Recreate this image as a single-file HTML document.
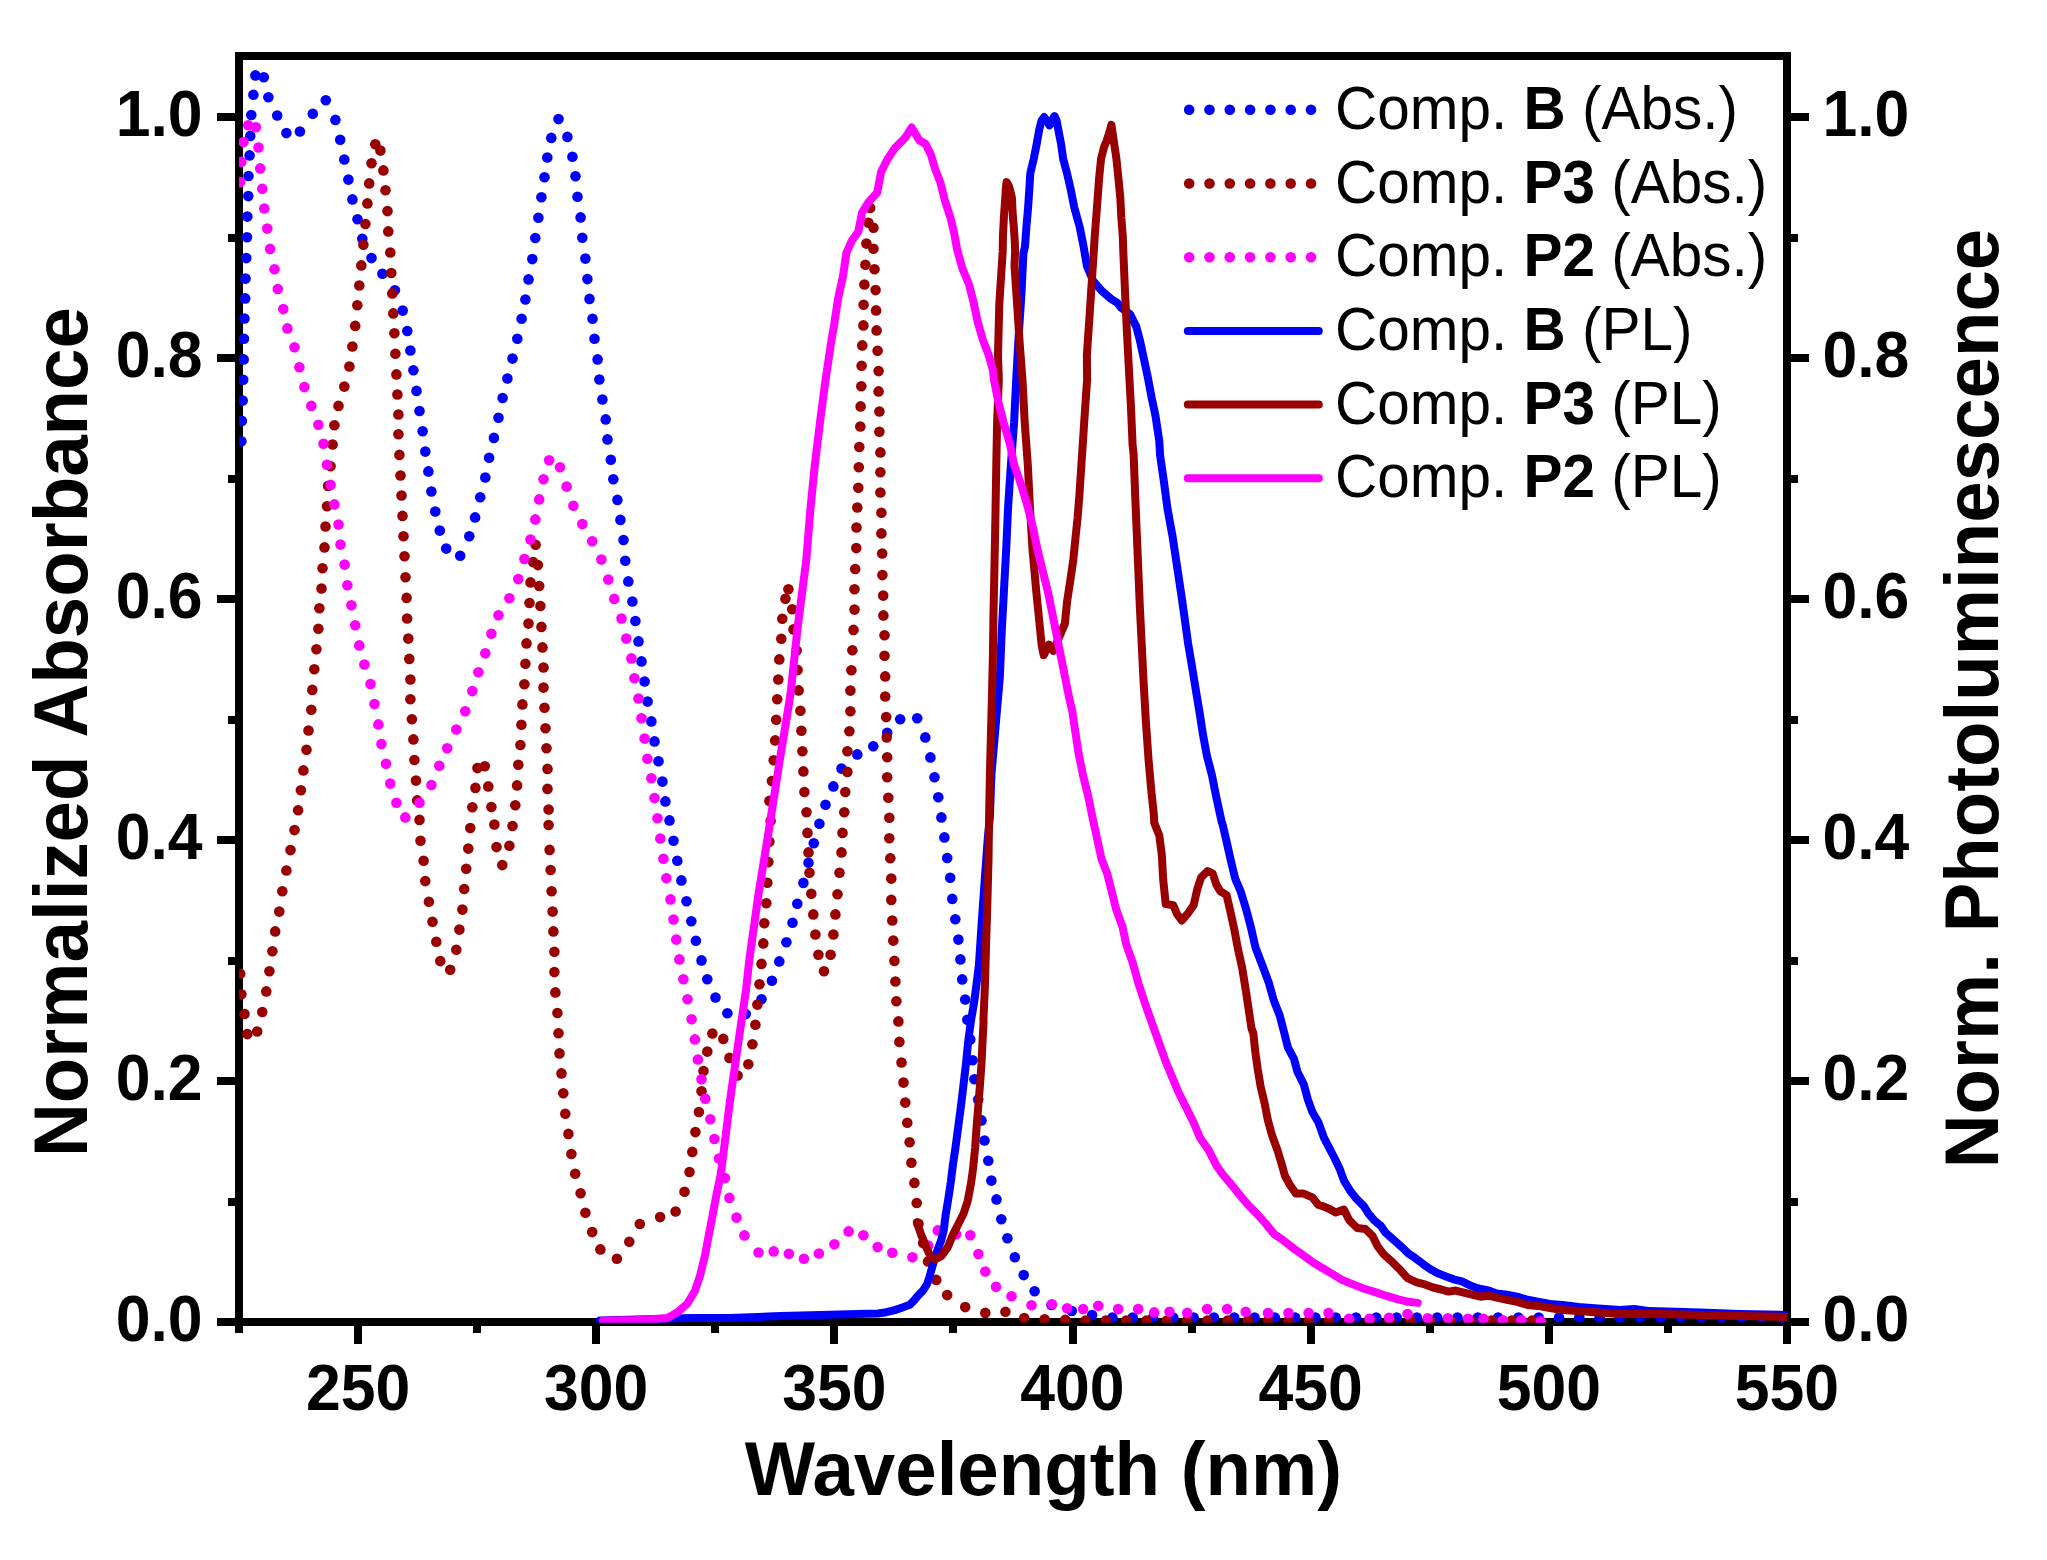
<!DOCTYPE html>
<html lang="en"><head><meta charset="utf-8"><title>Absorbance and Photoluminescence</title>
<style>html,body{margin:0;padding:0;background:#fff}body{width:2047px;height:1560px;overflow:hidden}</style></head>
<body>
<svg width="2047" height="1560" viewBox="0 0 2047 1560" style="display:block">
<rect width="2047" height="1560" fill="#fff"/>
<defs><clipPath id="c"><rect x="239" y="56" width="1548.5" height="1266.7"/></clipPath></defs>
<g stroke="#000" stroke-width="8" fill="none" stroke-linecap="butt" shape-rendering="crispEdges">
<rect x="239" y="56" width="1548" height="1266"/>
<path d="M239,1322.0h-22 M1787,1322.0h22 M239,1201.5h-11 M1787,1201.5h11 M239,1081.0h-22 M1787,1081.0h22 M239,960.5h-11 M1787,960.5h11 M239,840.0h-22 M1787,840.0h22 M239,719.5h-11 M1787,719.5h11 M239,599.0h-22 M1787,599.0h22 M239,478.5h-11 M1787,478.5h11 M239,358.0h-22 M1787,358.0h22 M239,237.5h-11 M1787,237.5h11 M239,117.0h-22 M1787,117.0h22 M239,1322v11 M358,1322v22 M477,1322v11 M596,1322v22 M715,1322v11 M834,1322v22 M953,1322v11 M1073,1322v22 M1192,1322v11 M1311,1322v22 M1430,1322v11 M1549,1322v22 M1668,1322v11 M1787,1322v22"/>
</g>
<g clip-path="url(#c)">
<g fill="#0000ff"><circle cx="241.4" cy="441.2" r="5.3"/><circle cx="241.9" cy="420.9" r="5.3"/><circle cx="242.7" cy="400.6" r="5.3"/><circle cx="243.2" cy="379.7" r="5.3"/><circle cx="243.7" cy="359.4" r="5.3"/><circle cx="244.0" cy="338.8" r="5.3"/><circle cx="244.5" cy="318.5" r="5.3"/><circle cx="245.2" cy="298.4" r="5.3"/><circle cx="245.5" cy="278.6" r="5.3"/><circle cx="246.3" cy="258.1" r="5.3"/><circle cx="247.0" cy="237.2" r="5.3"/><circle cx="247.3" cy="216.6" r="5.3"/><circle cx="248.3" cy="196.1" r="5.3"/><circle cx="248.5" cy="176.0" r="5.3"/><circle cx="249.6" cy="155.4" r="5.3"/><circle cx="250.3" cy="135.9" r="5.3"/><circle cx="251.3" cy="115.0" r="5.3"/><circle cx="253.4" cy="94.7" r="5.3"/><circle cx="255.4" cy="75.4" r="5.3"/><circle cx="263.8" cy="77.2" r="5.3"/><circle cx="268.4" cy="97.2" r="5.3"/><circle cx="277.2" cy="115.5" r="5.3"/><circle cx="286.4" cy="133.1" r="5.3"/><circle cx="299.9" cy="131.5" r="5.3"/><circle cx="312.8" cy="113.8" r="5.3"/><circle cx="325.8" cy="100.3" r="5.3"/><circle cx="335.4" cy="119.9" r="5.3"/><circle cx="340.2" cy="139.7" r="5.3"/><circle cx="344.3" cy="159.5" r="5.3"/><circle cx="348.4" cy="179.6" r="5.3"/><circle cx="352.4" cy="199.4" r="5.3"/><circle cx="357.5" cy="219.2" r="5.3"/><circle cx="362.3" cy="238.7" r="5.3"/><circle cx="371.5" cy="258.1" r="5.3"/><circle cx="382.4" cy="273.8" r="5.3"/><circle cx="394.9" cy="290.3" r="5.3"/><circle cx="402.7" cy="310.6" r="5.3"/><circle cx="407.3" cy="331.0" r="5.3"/><circle cx="410.4" cy="350.5" r="5.3"/><circle cx="413.4" cy="370.3" r="5.3"/><circle cx="416.5" cy="390.9" r="5.3"/><circle cx="419.5" cy="411.0" r="5.3"/><circle cx="422.6" cy="431.3" r="5.3"/><circle cx="425.3" cy="451.6" r="5.3"/><circle cx="428.4" cy="471.4" r="5.3"/><circle cx="431.4" cy="491.5" r="5.3"/><circle cx="435.3" cy="511.5" r="5.3"/><circle cx="439.8" cy="530.6" r="5.3"/><circle cx="446.2" cy="548.6" r="5.3"/><circle cx="460.2" cy="555.7" r="5.3"/><circle cx="469.3" cy="536.2" r="5.3"/><circle cx="475.1" cy="517.4" r="5.3"/><circle cx="480.2" cy="497.3" r="5.3"/><circle cx="485.3" cy="477.5" r="5.3"/><circle cx="489.1" cy="457.7" r="5.3"/><circle cx="493.9" cy="437.9" r="5.3"/><circle cx="498.5" cy="417.8" r="5.3"/><circle cx="502.6" cy="398.0" r="5.3"/><circle cx="507.4" cy="378.5" r="5.3"/><circle cx="512.5" cy="358.6" r="5.3"/><circle cx="517.3" cy="338.8" r="5.3"/><circle cx="521.6" cy="318.8" r="5.3"/><circle cx="525.4" cy="299.5" r="5.3"/><circle cx="528.5" cy="279.4" r="5.3"/><circle cx="532.3" cy="259.1" r="5.3"/><circle cx="535.3" cy="238.0" r="5.3"/><circle cx="538.4" cy="217.7" r="5.3"/><circle cx="541.4" cy="197.3" r="5.3"/><circle cx="544.5" cy="177.3" r="5.3"/><circle cx="547.3" cy="157.5" r="5.3"/><circle cx="551.3" cy="137.9" r="5.3"/><circle cx="558.5" cy="119.1" r="5.3"/><circle cx="567.4" cy="136.9" r="5.3"/><circle cx="572.4" cy="156.7" r="5.3"/><circle cx="575.5" cy="176.3" r="5.3"/><circle cx="577.5" cy="196.8" r="5.3"/><circle cx="580.6" cy="217.4" r="5.3"/><circle cx="582.3" cy="237.7" r="5.3"/><circle cx="585.4" cy="258.6" r="5.3"/><circle cx="587.4" cy="279.1" r="5.3"/><circle cx="589.5" cy="298.9" r="5.3"/><circle cx="592.5" cy="318.8" r="5.3"/><circle cx="594.5" cy="338.8" r="5.3"/><circle cx="597.6" cy="359.4" r="5.3"/><circle cx="599.4" cy="379.5" r="5.3"/><circle cx="602.4" cy="399.5" r="5.3"/><circle cx="605.7" cy="419.4" r="5.3"/><circle cx="607.5" cy="439.4" r="5.3"/><circle cx="610.8" cy="459.7" r="5.3"/><circle cx="613.3" cy="479.3" r="5.3"/><circle cx="617.4" cy="499.9" r="5.3"/><circle cx="620.4" cy="519.9" r="5.3"/><circle cx="623.5" cy="540.0" r="5.3"/><circle cx="625.3" cy="560.8" r="5.3"/><circle cx="628.3" cy="581.4" r="5.3"/><circle cx="632.4" cy="601.5" r="5.3"/><circle cx="635.4" cy="621.0" r="5.3"/><circle cx="638.5" cy="641.4" r="5.3"/><circle cx="641.5" cy="661.4" r="5.3"/><circle cx="644.6" cy="681.5" r="5.3"/><circle cx="647.6" cy="701.6" r="5.3"/><circle cx="651.4" cy="721.4" r="5.3"/><circle cx="654.5" cy="741.4" r="5.3"/><circle cx="658.5" cy="761.3" r="5.3"/><circle cx="662.4" cy="781.6" r="5.3"/><circle cx="665.4" cy="801.4" r="5.3"/><circle cx="669.5" cy="820.4" r="5.3"/><circle cx="673.5" cy="840.7" r="5.3"/><circle cx="677.3" cy="860.8" r="5.3"/><circle cx="681.4" cy="880.4" r="5.3"/><circle cx="686.5" cy="901.2" r="5.3"/><circle cx="691.3" cy="921.3" r="5.3"/><circle cx="695.9" cy="940.8" r="5.3"/><circle cx="701.5" cy="960.4" r="5.3"/><circle cx="707.3" cy="979.2" r="5.3"/><circle cx="715.5" cy="997.5" r="5.3"/><circle cx="727.4" cy="1013.2" r="5.3"/><circle cx="745.7" cy="1014.0" r="5.3"/><circle cx="761.5" cy="999.3" r="5.3"/><circle cx="771.9" cy="980.7" r="5.3"/><circle cx="779.3" cy="961.4" r="5.3"/><circle cx="786.4" cy="942.3" r="5.3"/><circle cx="792.5" cy="922.8" r="5.3"/><circle cx="797.3" cy="903.7" r="5.3"/><circle cx="803.4" cy="882.9" r="5.3"/><circle cx="808.5" cy="862.8" r="5.3"/><circle cx="813.8" cy="843.3" r="5.3"/><circle cx="819.4" cy="823.7" r="5.3"/><circle cx="825.5" cy="804.7" r="5.3"/><circle cx="833.4" cy="786.4" r="5.3"/><circle cx="841.5" cy="768.6" r="5.3"/><circle cx="857.3" cy="754.4" r="5.3"/><circle cx="873.3" cy="746.3" r="5.3"/><circle cx="887.2" cy="732.8" r="5.3"/><circle cx="900.2" cy="719.3" r="5.3"/><circle cx="917.2" cy="718.3" r="5.3"/><circle cx="925.3" cy="737.4" r="5.3"/><circle cx="930.4" cy="757.4" r="5.3"/><circle cx="934.5" cy="777.3" r="5.3"/><circle cx="938.3" cy="797.3" r="5.3"/><circle cx="941.4" cy="817.4" r="5.3"/><circle cx="944.4" cy="837.4" r="5.3"/><circle cx="947.2" cy="858.0" r="5.3"/><circle cx="950.2" cy="877.8" r="5.3"/><circle cx="952.3" cy="898.9" r="5.3"/><circle cx="955.3" cy="919.2" r="5.3"/><circle cx="958.4" cy="939.6" r="5.3"/><circle cx="960.4" cy="959.4" r="5.3"/><circle cx="962.2" cy="979.4" r="5.3"/><circle cx="965.2" cy="999.5" r="5.3"/><circle cx="967.3" cy="1019.8" r="5.3"/><circle cx="970.3" cy="1039.4" r="5.3"/><circle cx="972.6" cy="1060.2" r="5.3"/><circle cx="974.4" cy="1079.3" r="5.3"/><circle cx="978.2" cy="1099.6" r="5.3"/><circle cx="981.5" cy="1120.4" r="5.3"/><circle cx="984.5" cy="1140.5" r="5.3"/><circle cx="988.3" cy="1160.8" r="5.3"/><circle cx="991.4" cy="1180.6" r="5.3"/><circle cx="996.5" cy="1199.4" r="5.3"/><circle cx="1001.3" cy="1219.2" r="5.3"/><circle cx="1007.4" cy="1238.2" r="5.3"/><circle cx="1014.8" cy="1257.3" r="5.3"/><circle cx="1023.7" cy="1275.1" r="5.3"/><circle cx="1034.6" cy="1291.3" r="5.3"/><circle cx="1051.5" cy="1305.0" r="5.3"/><circle cx="1071.8" cy="1311.0" r="5.3"/><circle cx="1092.1" cy="1315.0" r="5.3"/><circle cx="1112.4" cy="1317.5" r="5.3"/><circle cx="1132.7" cy="1317.5" r="5.3"/><circle cx="1153.0" cy="1317.5" r="5.3"/><circle cx="1173.3" cy="1317.5" r="5.3"/><circle cx="1193.6" cy="1317.5" r="5.3"/><circle cx="1213.9" cy="1317.5" r="5.3"/><circle cx="1234.2" cy="1317.5" r="5.3"/><circle cx="1254.5" cy="1317.5" r="5.3"/><circle cx="1274.8" cy="1317.5" r="5.3"/><circle cx="1295.1" cy="1317.5" r="5.3"/><circle cx="1315.4" cy="1317.5" r="5.3"/><circle cx="1335.7" cy="1317.5" r="5.3"/><circle cx="1356.0" cy="1317.5" r="5.3"/><circle cx="1376.3" cy="1317.5" r="5.3"/><circle cx="1396.6" cy="1317.5" r="5.3"/><circle cx="1416.9" cy="1317.5" r="5.3"/><circle cx="1437.2" cy="1317.5" r="5.3"/><circle cx="1457.5" cy="1317.5" r="5.3"/><circle cx="1477.8" cy="1317.5" r="5.3"/><circle cx="1498.1" cy="1317.5" r="5.3"/><circle cx="1518.4" cy="1317.5" r="5.3"/><circle cx="1538.7" cy="1317.5" r="5.3"/><circle cx="1559.0" cy="1317.5" r="5.3"/><circle cx="1579.3" cy="1317.5" r="5.3"/><circle cx="1599.6" cy="1317.5" r="5.3"/><circle cx="1619.9" cy="1317.5" r="5.3"/><circle cx="1640.2" cy="1317.5" r="5.3"/><circle cx="1660.5" cy="1317.5" r="5.3"/><circle cx="1680.8" cy="1317.5" r="5.3"/><circle cx="1701.1" cy="1317.5" r="5.3"/><circle cx="1721.4" cy="1317.5" r="5.3"/><circle cx="1741.7" cy="1317.5" r="5.3"/><circle cx="1762.0" cy="1317.5" r="5.3"/><circle cx="1782.3" cy="1317.5" r="5.3"/></g>
<g fill="#990000"><circle cx="240.2" cy="973.8" r="5.3"/><circle cx="241.4" cy="994.2" r="5.3"/><circle cx="244.5" cy="1014.0" r="5.3"/><circle cx="247.3" cy="1034.1" r="5.3"/><circle cx="257.2" cy="1031.5" r="5.3"/><circle cx="262.3" cy="1012.0" r="5.3"/><circle cx="266.3" cy="991.4" r="5.3"/><circle cx="269.4" cy="971.3" r="5.3"/><circle cx="272.4" cy="951.2" r="5.3"/><circle cx="275.2" cy="931.4" r="5.3"/><circle cx="279.3" cy="911.6" r="5.3"/><circle cx="282.3" cy="891.3" r="5.3"/><circle cx="286.4" cy="870.5" r="5.3"/><circle cx="290.5" cy="850.1" r="5.3"/><circle cx="294.5" cy="830.1" r="5.3"/><circle cx="298.1" cy="810.3" r="5.3"/><circle cx="300.9" cy="790.2" r="5.3"/><circle cx="303.4" cy="770.4" r="5.3"/><circle cx="306.5" cy="749.8" r="5.3"/><circle cx="308.5" cy="730.5" r="5.3"/><circle cx="311.3" cy="709.7" r="5.3"/><circle cx="312.3" cy="689.9" r="5.3"/><circle cx="314.3" cy="669.3" r="5.3"/><circle cx="316.4" cy="649.2" r="5.3"/><circle cx="318.4" cy="628.7" r="5.3"/><circle cx="319.4" cy="608.3" r="5.3"/><circle cx="321.5" cy="588.5" r="5.3"/><circle cx="322.5" cy="568.2" r="5.3"/><circle cx="324.5" cy="547.4" r="5.3"/><circle cx="325.5" cy="526.5" r="5.3"/><circle cx="327.0" cy="506.2" r="5.3"/><circle cx="328.1" cy="485.9" r="5.3"/><circle cx="330.6" cy="466.3" r="5.3"/><circle cx="332.6" cy="444.5" r="5.3"/><circle cx="334.4" cy="425.2" r="5.3"/><circle cx="338.5" cy="405.9" r="5.3"/><circle cx="344.3" cy="386.6" r="5.3"/><circle cx="349.4" cy="366.5" r="5.3"/><circle cx="352.4" cy="346.5" r="5.3"/><circle cx="355.2" cy="325.9" r="5.3"/><circle cx="357.3" cy="305.3" r="5.3"/><circle cx="359.3" cy="285.5" r="5.3"/><circle cx="361.3" cy="265.4" r="5.3"/><circle cx="363.4" cy="244.8" r="5.3"/><circle cx="365.4" cy="224.0" r="5.3"/><circle cx="367.4" cy="203.4" r="5.3"/><circle cx="369.2" cy="183.4" r="5.3"/><circle cx="371.5" cy="163.3" r="5.3"/><circle cx="375.3" cy="144.2" r="5.3"/><circle cx="380.4" cy="150.6" r="5.3"/><circle cx="383.4" cy="170.4" r="5.3"/><circle cx="385.5" cy="190.2" r="5.3"/><circle cx="387.5" cy="211.1" r="5.3"/><circle cx="388.3" cy="231.4" r="5.3"/><circle cx="390.3" cy="252.5" r="5.3"/><circle cx="391.3" cy="273.0" r="5.3"/><circle cx="392.3" cy="293.4" r="5.3"/><circle cx="393.3" cy="313.4" r="5.3"/><circle cx="394.4" cy="333.2" r="5.3"/><circle cx="395.4" cy="353.8" r="5.3"/><circle cx="396.4" cy="374.4" r="5.3"/><circle cx="397.4" cy="394.5" r="5.3"/><circle cx="398.4" cy="414.5" r="5.3"/><circle cx="398.4" cy="434.3" r="5.3"/><circle cx="399.4" cy="454.9" r="5.3"/><circle cx="400.5" cy="475.5" r="5.3"/><circle cx="401.5" cy="495.5" r="5.3"/><circle cx="402.5" cy="515.9" r="5.3"/><circle cx="403.5" cy="536.2" r="5.3"/><circle cx="404.5" cy="556.3" r="5.3"/><circle cx="405.5" cy="577.3" r="5.3"/><circle cx="406.6" cy="597.9" r="5.3"/><circle cx="407.1" cy="618.5" r="5.3"/><circle cx="408.3" cy="638.6" r="5.3"/><circle cx="409.3" cy="658.9" r="5.3"/><circle cx="410.4" cy="679.5" r="5.3"/><circle cx="410.4" cy="699.3" r="5.3"/><circle cx="411.9" cy="719.3" r="5.3"/><circle cx="413.4" cy="739.4" r="5.3"/><circle cx="414.4" cy="760.0" r="5.3"/><circle cx="416.0" cy="780.6" r="5.3"/><circle cx="417.2" cy="800.4" r="5.3"/><circle cx="419.5" cy="819.9" r="5.3"/><circle cx="420.5" cy="840.7" r="5.3"/><circle cx="423.6" cy="860.8" r="5.3"/><circle cx="425.3" cy="881.1" r="5.3"/><circle cx="428.9" cy="901.7" r="5.3"/><circle cx="432.5" cy="921.8" r="5.3"/><circle cx="436.3" cy="941.8" r="5.3"/><circle cx="440.3" cy="961.1" r="5.3"/><circle cx="450.2" cy="969.8" r="5.3"/><circle cx="456.3" cy="949.7" r="5.3"/><circle cx="459.4" cy="929.6" r="5.3"/><circle cx="462.4" cy="909.6" r="5.3"/><circle cx="464.2" cy="889.0" r="5.3"/><circle cx="466.2" cy="868.7" r="5.3"/><circle cx="468.3" cy="848.6" r="5.3"/><circle cx="470.3" cy="828.0" r="5.3"/><circle cx="472.3" cy="807.2" r="5.3"/><circle cx="475.4" cy="787.9" r="5.3"/><circle cx="477.4" cy="768.1" r="5.3"/><circle cx="484.8" cy="766.3" r="5.3"/><circle cx="488.3" cy="786.4" r="5.3"/><circle cx="491.4" cy="807.0" r="5.3"/><circle cx="494.4" cy="824.5" r="5.3"/><circle cx="496.5" cy="847.1" r="5.3"/><circle cx="502.3" cy="865.1" r="5.3"/><circle cx="509.4" cy="845.8" r="5.3"/><circle cx="512.5" cy="826.0" r="5.3"/><circle cx="515.3" cy="805.2" r="5.3"/><circle cx="517.1" cy="785.4" r="5.3"/><circle cx="518.3" cy="764.8" r="5.3"/><circle cx="520.4" cy="745.0" r="5.3"/><circle cx="521.4" cy="724.7" r="5.3"/><circle cx="522.4" cy="704.4" r="5.3"/><circle cx="524.4" cy="684.3" r="5.3"/><circle cx="525.4" cy="663.7" r="5.3"/><circle cx="526.5" cy="643.4" r="5.3"/><circle cx="528.5" cy="623.6" r="5.3"/><circle cx="529.5" cy="603.0" r="5.3"/><circle cx="530.5" cy="582.4" r="5.3"/><circle cx="533.1" cy="562.1" r="5.3"/><circle cx="535.6" cy="544.8" r="5.3"/><circle cx="537.9" cy="565.1" r="5.3"/><circle cx="539.2" cy="586.0" r="5.3"/><circle cx="540.4" cy="606.0" r="5.3"/><circle cx="541.4" cy="626.9" r="5.3"/><circle cx="542.5" cy="647.4" r="5.3"/><circle cx="543.5" cy="667.5" r="5.3"/><circle cx="543.5" cy="687.6" r="5.3"/><circle cx="544.5" cy="707.7" r="5.3"/><circle cx="545.5" cy="728.2" r="5.3"/><circle cx="546.5" cy="748.3" r="5.3"/><circle cx="547.5" cy="768.9" r="5.3"/><circle cx="547.5" cy="788.9" r="5.3"/><circle cx="548.6" cy="809.5" r="5.3"/><circle cx="548.6" cy="825.0" r="5.3"/><circle cx="549.6" cy="849.9" r="5.3"/><circle cx="550.6" cy="870.0" r="5.3"/><circle cx="551.6" cy="891.3" r="5.3"/><circle cx="552.6" cy="911.6" r="5.3"/><circle cx="553.4" cy="931.4" r="5.3"/><circle cx="554.4" cy="951.7" r="5.3"/><circle cx="554.4" cy="972.1" r="5.3"/><circle cx="555.4" cy="992.4" r="5.3"/><circle cx="557.4" cy="1013.0" r="5.3"/><circle cx="558.5" cy="1033.3" r="5.3"/><circle cx="559.5" cy="1053.4" r="5.3"/><circle cx="561.5" cy="1073.4" r="5.3"/><circle cx="563.3" cy="1093.2" r="5.3"/><circle cx="565.3" cy="1113.8" r="5.3"/><circle cx="568.4" cy="1133.9" r="5.3"/><circle cx="571.4" cy="1154.0" r="5.3"/><circle cx="575.2" cy="1173.8" r="5.3"/><circle cx="580.6" cy="1193.3" r="5.3"/><circle cx="585.4" cy="1212.8" r="5.3"/><circle cx="592.2" cy="1232.1" r="5.3"/><circle cx="600.4" cy="1249.4" r="5.3"/><circle cx="616.9" cy="1258.8" r="5.3"/><circle cx="629.3" cy="1241.7" r="5.3"/><circle cx="639.8" cy="1224.0" r="5.3"/><circle cx="660.1" cy="1217.1" r="5.3"/><circle cx="675.6" cy="1211.5" r="5.3"/><circle cx="684.5" cy="1191.8" r="5.3"/><circle cx="689.5" cy="1172.0" r="5.3"/><circle cx="692.3" cy="1151.9" r="5.3"/><circle cx="695.4" cy="1132.1" r="5.3"/><circle cx="698.9" cy="1112.0" r="5.3"/><circle cx="701.5" cy="1091.2" r="5.3"/><circle cx="703.5" cy="1071.1" r="5.3"/><circle cx="707.3" cy="1051.6" r="5.3"/><circle cx="712.4" cy="1033.5" r="5.3"/><circle cx="723.3" cy="1038.9" r="5.3"/><circle cx="729.4" cy="1057.9" r="5.3"/><circle cx="737.6" cy="1075.5" r="5.3"/><circle cx="748.3" cy="1064.3" r="5.3"/><circle cx="752.4" cy="1044.2" r="5.3"/><circle cx="755.4" cy="1024.7" r="5.3"/><circle cx="757.4" cy="1004.6" r="5.3"/><circle cx="759.5" cy="984.3" r="5.3"/><circle cx="761.5" cy="963.9" r="5.3"/><circle cx="763.3" cy="943.4" r="5.3"/><circle cx="764.3" cy="923.3" r="5.3"/><circle cx="766.3" cy="903.2" r="5.3"/><circle cx="767.3" cy="882.7" r="5.3"/><circle cx="768.4" cy="862.1" r="5.3"/><circle cx="769.4" cy="841.8" r="5.3"/><circle cx="770.6" cy="820.9" r="5.3"/><circle cx="769.4" cy="800.9" r="5.3"/><circle cx="771.9" cy="781.1" r="5.3"/><circle cx="773.7" cy="760.2" r="5.3"/><circle cx="775.2" cy="740.4" r="5.3"/><circle cx="776.2" cy="719.8" r="5.3"/><circle cx="777.2" cy="699.3" r="5.3"/><circle cx="778.3" cy="679.5" r="5.3"/><circle cx="779.3" cy="659.4" r="5.3"/><circle cx="781.3" cy="638.8" r="5.3"/><circle cx="782.3" cy="618.7" r="5.3"/><circle cx="785.4" cy="598.7" r="5.3"/><circle cx="788.4" cy="589.3" r="5.3"/><circle cx="792.2" cy="609.3" r="5.3"/><circle cx="793.5" cy="629.4" r="5.3"/><circle cx="796.6" cy="650.5" r="5.3"/><circle cx="797.6" cy="670.1" r="5.3"/><circle cx="798.6" cy="690.4" r="5.3"/><circle cx="800.4" cy="710.7" r="5.3"/><circle cx="801.4" cy="730.8" r="5.3"/><circle cx="802.4" cy="751.3" r="5.3"/><circle cx="803.4" cy="771.4" r="5.3"/><circle cx="804.4" cy="792.0" r="5.3"/><circle cx="806.5" cy="812.3" r="5.3"/><circle cx="807.5" cy="832.9" r="5.3"/><circle cx="808.5" cy="852.4" r="5.3"/><circle cx="809.5" cy="872.7" r="5.3"/><circle cx="811.3" cy="893.8" r="5.3"/><circle cx="813.3" cy="914.4" r="5.3"/><circle cx="815.4" cy="934.5" r="5.3"/><circle cx="818.4" cy="954.8" r="5.3"/><circle cx="824.0" cy="971.3" r="5.3"/><circle cx="830.6" cy="954.8" r="5.3"/><circle cx="833.4" cy="934.5" r="5.3"/><circle cx="835.4" cy="914.4" r="5.3"/><circle cx="837.5" cy="894.3" r="5.3"/><circle cx="839.5" cy="872.7" r="5.3"/><circle cx="841.5" cy="852.4" r="5.3"/><circle cx="842.5" cy="832.9" r="5.3"/><circle cx="844.3" cy="812.3" r="5.3"/><circle cx="845.3" cy="792.0" r="5.3"/><circle cx="847.4" cy="771.9" r="5.3"/><circle cx="847.4" cy="751.3" r="5.3"/><circle cx="849.4" cy="731.3" r="5.3"/><circle cx="850.4" cy="711.2" r="5.3"/><circle cx="850.4" cy="690.6" r="5.3"/><circle cx="851.4" cy="670.3" r="5.3"/><circle cx="852.4" cy="650.2" r="5.3"/><circle cx="853.5" cy="629.9" r="5.3"/><circle cx="854.5" cy="609.6" r="5.3"/><circle cx="854.5" cy="589.3" r="5.3"/><circle cx="855.2" cy="569.0" r="5.3"/><circle cx="856.3" cy="548.1" r="5.3"/><circle cx="856.5" cy="527.5" r="5.3"/><circle cx="857.3" cy="507.5" r="5.3"/><circle cx="858.3" cy="487.7" r="5.3"/><circle cx="858.8" cy="467.3" r="5.3"/><circle cx="859.3" cy="447.0" r="5.3"/><circle cx="860.3" cy="426.5" r="5.3"/><circle cx="860.6" cy="406.4" r="5.3"/><circle cx="861.3" cy="386.3" r="5.3"/><circle cx="861.6" cy="365.8" r="5.3"/><circle cx="862.3" cy="345.4" r="5.3"/><circle cx="863.4" cy="325.4" r="5.3"/><circle cx="863.6" cy="304.8" r="5.3"/><circle cx="864.4" cy="284.5" r="5.3"/><circle cx="865.4" cy="264.7" r="5.3"/><circle cx="866.4" cy="243.6" r="5.3"/><circle cx="868.4" cy="222.7" r="5.3"/><circle cx="870.2" cy="208.0" r="5.3"/><circle cx="873.5" cy="227.8" r="5.3"/><circle cx="873.5" cy="248.7" r="5.3"/><circle cx="874.5" cy="269.2" r="5.3"/><circle cx="875.6" cy="290.1" r="5.3"/><circle cx="876.1" cy="310.4" r="5.3"/><circle cx="876.6" cy="330.4" r="5.3"/><circle cx="877.6" cy="350.8" r="5.3"/><circle cx="878.6" cy="371.1" r="5.3"/><circle cx="878.6" cy="391.4" r="5.3"/><circle cx="879.4" cy="411.5" r="5.3"/><circle cx="879.4" cy="431.8" r="5.3"/><circle cx="880.4" cy="452.4" r="5.3"/><circle cx="880.4" cy="472.2" r="5.3"/><circle cx="880.4" cy="492.5" r="5.3"/><circle cx="881.4" cy="512.8" r="5.3"/><circle cx="881.4" cy="533.4" r="5.3"/><circle cx="882.2" cy="553.5" r="5.3"/><circle cx="882.4" cy="575.1" r="5.3"/><circle cx="883.2" cy="595.6" r="5.3"/><circle cx="883.4" cy="615.4" r="5.3"/><circle cx="884.5" cy="635.3" r="5.3"/><circle cx="884.5" cy="655.8" r="5.3"/><circle cx="885.2" cy="676.4" r="5.3"/><circle cx="885.2" cy="696.5" r="5.3"/><circle cx="886.2" cy="717.1" r="5.3"/><circle cx="886.7" cy="737.4" r="5.3"/><circle cx="887.2" cy="757.2" r="5.3"/><circle cx="887.2" cy="777.3" r="5.3"/><circle cx="888.3" cy="797.8" r="5.3"/><circle cx="889.3" cy="817.7" r="5.3"/><circle cx="889.3" cy="838.2" r="5.3"/><circle cx="890.3" cy="858.3" r="5.3"/><circle cx="891.3" cy="878.6" r="5.3"/><circle cx="891.3" cy="899.9" r="5.3"/><circle cx="892.3" cy="920.5" r="5.3"/><circle cx="893.3" cy="940.6" r="5.3"/><circle cx="894.4" cy="960.9" r="5.3"/><circle cx="895.4" cy="981.5" r="5.3"/><circle cx="896.4" cy="1001.3" r="5.3"/><circle cx="898.4" cy="1021.4" r="5.3"/><circle cx="899.4" cy="1041.9" r="5.3"/><circle cx="901.5" cy="1062.5" r="5.3"/><circle cx="903.5" cy="1082.6" r="5.3"/><circle cx="905.3" cy="1102.6" r="5.3"/><circle cx="907.3" cy="1122.7" r="5.3"/><circle cx="909.6" cy="1142.3" r="5.3"/><circle cx="911.4" cy="1162.8" r="5.3"/><circle cx="914.4" cy="1182.9" r="5.3"/><circle cx="916.7" cy="1203.0" r="5.3"/><circle cx="918.5" cy="1223.8" r="5.3"/><circle cx="923.1" cy="1243.1" r="5.3"/><circle cx="928.1" cy="1261.4" r="5.3"/><circle cx="936.3" cy="1279.9" r="5.3"/><circle cx="947.2" cy="1295.1" r="5.3"/><circle cx="965.2" cy="1307.1" r="5.3"/><circle cx="985.3" cy="1312.9" r="5.3"/><circle cx="1005.4" cy="1311.7" r="5.3"/><circle cx="1024.2" cy="1318.0" r="5.3"/><circle cx="1044.5" cy="1319.3" r="5.3"/><circle cx="1065.3" cy="1319.8" r="5.3"/><circle cx="1085.6" cy="1320.5" r="5.3"/><circle cx="1105.9" cy="1320.5" r="5.3"/><circle cx="1126.2" cy="1320.5" r="5.3"/><circle cx="1146.5" cy="1320.5" r="5.3"/><circle cx="1166.8" cy="1320.5" r="5.3"/><circle cx="1187.1" cy="1320.5" r="5.3"/><circle cx="1207.4" cy="1320.5" r="5.3"/><circle cx="1227.7" cy="1320.5" r="5.3"/><circle cx="1248.0" cy="1320.5" r="5.3"/><circle cx="1268.3" cy="1320.5" r="5.3"/><circle cx="1288.6" cy="1320.5" r="5.3"/><circle cx="1308.9" cy="1320.5" r="5.3"/><circle cx="1329.2" cy="1320.5" r="5.3"/><circle cx="1349.5" cy="1320.5" r="5.3"/><circle cx="1369.8" cy="1320.5" r="5.3"/><circle cx="1390.1" cy="1320.5" r="5.3"/><circle cx="1410.4" cy="1320.5" r="5.3"/><circle cx="1430.7" cy="1320.5" r="5.3"/><circle cx="1451.0" cy="1320.5" r="5.3"/><circle cx="1471.3" cy="1320.5" r="5.3"/><circle cx="1491.6" cy="1320.5" r="5.3"/><circle cx="1511.9" cy="1320.5" r="5.3"/><circle cx="1532.2" cy="1320.5" r="5.3"/></g>
<g fill="#ff00ff"><circle cx="240.2" cy="182.1" r="5.3"/><circle cx="241.4" cy="161.8" r="5.3"/><circle cx="243.5" cy="142.0" r="5.3"/><circle cx="248.3" cy="125.2" r="5.3"/><circle cx="255.9" cy="127.2" r="5.3"/><circle cx="258.5" cy="147.5" r="5.3"/><circle cx="260.2" cy="168.4" r="5.3"/><circle cx="262.3" cy="188.7" r="5.3"/><circle cx="264.3" cy="208.5" r="5.3"/><circle cx="267.3" cy="228.6" r="5.3"/><circle cx="270.1" cy="248.9" r="5.3"/><circle cx="274.5" cy="269.2" r="5.3"/><circle cx="277.8" cy="289.0" r="5.3"/><circle cx="283.3" cy="309.1" r="5.3"/><circle cx="287.4" cy="328.4" r="5.3"/><circle cx="294.5" cy="347.2" r="5.3"/><circle cx="299.4" cy="367.3" r="5.3"/><circle cx="304.4" cy="387.1" r="5.3"/><circle cx="311.3" cy="405.9" r="5.3"/><circle cx="318.4" cy="424.7" r="5.3"/><circle cx="323.5" cy="443.7" r="5.3"/><circle cx="327.0" cy="464.8" r="5.3"/><circle cx="330.6" cy="484.9" r="5.3"/><circle cx="334.4" cy="504.4" r="5.3"/><circle cx="338.5" cy="524.5" r="5.3"/><circle cx="340.5" cy="544.6" r="5.3"/><circle cx="344.6" cy="564.6" r="5.3"/><circle cx="347.4" cy="585.2" r="5.3"/><circle cx="351.4" cy="605.3" r="5.3"/><circle cx="355.2" cy="625.3" r="5.3"/><circle cx="359.3" cy="645.4" r="5.3"/><circle cx="364.4" cy="664.5" r="5.3"/><circle cx="370.5" cy="684.0" r="5.3"/><circle cx="374.5" cy="704.1" r="5.3"/><circle cx="378.4" cy="724.4" r="5.3"/><circle cx="381.4" cy="744.0" r="5.3"/><circle cx="386.0" cy="763.8" r="5.3"/><circle cx="390.3" cy="783.6" r="5.3"/><circle cx="396.4" cy="802.7" r="5.3"/><circle cx="405.3" cy="817.4" r="5.3"/><circle cx="419.5" cy="802.7" r="5.3"/><circle cx="431.4" cy="785.1" r="5.3"/><circle cx="439.3" cy="765.8" r="5.3"/><circle cx="447.2" cy="748.3" r="5.3"/><circle cx="456.3" cy="729.5" r="5.3"/><circle cx="465.2" cy="711.2" r="5.3"/><circle cx="472.3" cy="691.1" r="5.3"/><circle cx="478.4" cy="672.3" r="5.3"/><circle cx="485.3" cy="653.3" r="5.3"/><circle cx="491.4" cy="633.7" r="5.3"/><circle cx="498.5" cy="615.2" r="5.3"/><circle cx="509.4" cy="598.2" r="5.3"/><circle cx="518.3" cy="579.1" r="5.3"/><circle cx="524.4" cy="559.0" r="5.3"/><circle cx="530.5" cy="539.5" r="5.3"/><circle cx="535.3" cy="519.4" r="5.3"/><circle cx="539.2" cy="499.4" r="5.3"/><circle cx="543.5" cy="479.3" r="5.3"/><circle cx="549.1" cy="460.2" r="5.3"/><circle cx="560.0" cy="467.3" r="5.3"/><circle cx="566.6" cy="486.6" r="5.3"/><circle cx="573.4" cy="505.7" r="5.3"/><circle cx="582.3" cy="524.0" r="5.3"/><circle cx="592.2" cy="541.3" r="5.3"/><circle cx="601.4" cy="559.6" r="5.3"/><circle cx="608.3" cy="579.6" r="5.3"/><circle cx="614.3" cy="598.9" r="5.3"/><circle cx="621.5" cy="618.5" r="5.3"/><circle cx="626.3" cy="638.6" r="5.3"/><circle cx="631.4" cy="658.4" r="5.3"/><circle cx="634.4" cy="678.2" r="5.3"/><circle cx="638.5" cy="698.5" r="5.3"/><circle cx="641.5" cy="718.3" r="5.3"/><circle cx="644.6" cy="738.6" r="5.3"/><circle cx="647.4" cy="758.7" r="5.3"/><circle cx="651.4" cy="778.3" r="5.3"/><circle cx="654.5" cy="798.1" r="5.3"/><circle cx="657.5" cy="818.2" r="5.3"/><circle cx="660.3" cy="838.5" r="5.3"/><circle cx="663.4" cy="858.8" r="5.3"/><circle cx="666.4" cy="878.3" r="5.3"/><circle cx="670.5" cy="899.4" r="5.3"/><circle cx="673.5" cy="919.5" r="5.3"/><circle cx="676.3" cy="939.6" r="5.3"/><circle cx="679.4" cy="959.4" r="5.3"/><circle cx="683.4" cy="979.2" r="5.3"/><circle cx="687.5" cy="999.3" r="5.3"/><circle cx="691.6" cy="1019.3" r="5.3"/><circle cx="694.9" cy="1039.4" r="5.3"/><circle cx="697.9" cy="1059.5" r="5.3"/><circle cx="701.5" cy="1079.3" r="5.3"/><circle cx="705.3" cy="1098.8" r="5.3"/><circle cx="710.4" cy="1119.2" r="5.3"/><circle cx="714.4" cy="1139.0" r="5.3"/><circle cx="719.0" cy="1158.5" r="5.3"/><circle cx="724.9" cy="1178.1" r="5.3"/><circle cx="729.4" cy="1197.9" r="5.3"/><circle cx="736.5" cy="1217.6" r="5.3"/><circle cx="744.4" cy="1235.4" r="5.3"/><circle cx="758.5" cy="1252.5" r="5.3"/><circle cx="773.7" cy="1251.4" r="5.3"/><circle cx="788.9" cy="1253.7" r="5.3"/><circle cx="803.9" cy="1258.8" r="5.3"/><circle cx="818.9" cy="1253.5" r="5.3"/><circle cx="834.4" cy="1244.3" r="5.3"/><circle cx="848.6" cy="1231.4" r="5.3"/><circle cx="863.4" cy="1235.2" r="5.3"/><circle cx="877.6" cy="1247.1" r="5.3"/><circle cx="892.3" cy="1252.7" r="5.3"/><circle cx="912.4" cy="1257.3" r="5.3"/><circle cx="928.1" cy="1245.6" r="5.3"/><circle cx="937.8" cy="1230.4" r="5.3"/><circle cx="956.1" cy="1234.2" r="5.3"/><circle cx="970.3" cy="1235.2" r="5.3"/><circle cx="978.4" cy="1254.0" r="5.3"/><circle cx="985.3" cy="1271.5" r="5.3"/><circle cx="996.0" cy="1286.8" r="5.3"/><circle cx="1011.5" cy="1296.2" r="5.3"/><circle cx="1031.5" cy="1305.3" r="5.3"/><circle cx="1051.9" cy="1304.3" r="5.3"/><circle cx="1067.1" cy="1308.3" r="5.3"/><circle cx="1083.1" cy="1309.1" r="5.3"/><circle cx="1098.3" cy="1305.8" r="5.3"/><circle cx="1118.2" cy="1309.1" r="5.3"/><circle cx="1138.2" cy="1309.1" r="5.3"/><circle cx="1154.2" cy="1312.4" r="5.3"/><circle cx="1169.5" cy="1311.7" r="5.3"/><circle cx="1187.3" cy="1312.9" r="5.3"/><circle cx="1207.1" cy="1309.1" r="5.3"/><circle cx="1227.1" cy="1309.1" r="5.3"/><circle cx="1245.7" cy="1311.7" r="5.3"/><circle cx="1268.0" cy="1313.1" r="5.3"/><circle cx="1288.5" cy="1313.1" r="5.3"/><circle cx="1308.6" cy="1313.1" r="5.3"/><circle cx="1328.5" cy="1313.1" r="5.3"/><circle cx="1349.0" cy="1318.7" r="5.3"/><circle cx="1369.5" cy="1318.7" r="5.3"/><circle cx="1389.0" cy="1317.8" r="5.3"/><circle cx="1407.5" cy="1314.1" r="5.3"/><circle cx="1427.6" cy="1318.2" r="5.3"/><circle cx="1447.9" cy="1318.2" r="5.3"/><circle cx="1468.0" cy="1318.7" r="5.3"/><circle cx="1483.4" cy="1318.7" r="5.3"/><circle cx="1502.9" cy="1320.3" r="5.3"/><circle cx="1521.4" cy="1320.3" r="5.3"/><circle cx="1540.8" cy="1321.3" r="5.3"/></g>
<path d="M600.0,1320.5 L692.0,1318.0 L730.0,1318.0 L780.8,1316.0 L820.0,1314.9 L857.4,1314.1 L878.1,1313.5 L886.4,1312.2 L894.8,1310.1 L903.1,1307.2 L909.7,1304.8 L913.9,1300.6 L918.0,1295.6 L923.0,1290.6 L927.1,1284.0 L929.6,1276.5 L932.1,1267.4 L934.6,1259.1 L937.9,1249.1 L941.3,1240.0 L943.8,1230.0 L945.5,1215.9 L948.3,1198.9 L950.8,1182.0 L952.9,1165.1 L955.4,1148.1 L958.2,1127.0 L961.0,1105.8 L963.5,1084.7 L966.0,1063.5 L968.1,1042.3 L970.9,1021.2 L974.5,1000.0 L978.9,965.1 L981.7,922.8 L984.7,880.5 L987.8,838.1 L989.9,817.0 L991.4,774.7 L999.9,676.3 L1001.6,634.0 L1003.9,591.6 L1006.2,549.3 L1008.1,507.0 L1010.9,464.7 L1014.1,422.3 L1016.2,380.0 L1018.3,342.1 L1021.6,291.3 L1023.4,253.2 L1025.0,246.6 L1026.4,227.0 L1028.1,207.5 L1029.4,187.9 L1030.3,173.3 L1033.8,158.6 L1036.7,144.0 L1039.3,129.3 L1041.6,120.5 L1044.2,117.1 L1047.0,121.0 L1049.4,125.4 L1051.8,121.0 L1054.6,116.1 L1056.7,121.0 L1058.2,129.3 L1061.1,144.0 L1063.1,158.6 L1067.0,173.3 L1070.4,187.9 L1074.3,207.5 L1079.7,227.0 L1083.6,246.6 L1086.9,265.9 L1093.3,281.2 L1102.2,291.3 L1111.0,298.9 L1117.4,302.8 L1121.2,307.8 L1130.1,314.2 L1136.4,326.9 L1140.3,342.1 L1144.1,359.9 L1147.9,377.7 L1151.7,398.0 L1155.5,415.8 L1159.3,441.2 L1160.1,455.4 L1163.8,480.8 L1167.5,508.7 L1172.6,536.7 L1176.8,564.6 L1181.0,592.6 L1184.6,618.0 L1188.1,643.4 L1192.4,668.8 L1196.5,694.2 L1199.9,714.5 L1203.0,734.8 L1206.8,755.2 L1212.0,775.5 L1216.0,795.8 L1221.5,821.2 L1222.8,825.2 L1226.9,843.0 L1230.9,860.8 L1235.2,878.6 L1240.6,891.3 L1246.1,909.1 L1250.8,926.9 L1255.4,947.2 L1262.2,965.0 L1268.8,982.7 L1273.8,1000.5 L1279.8,1015.8 L1284.4,1033.5 L1287.9,1047.5 L1294.0,1058.9 L1297.4,1071.7 L1303.8,1084.4 L1307.9,1099.6 L1312.5,1112.3 L1318.5,1122.5 L1323.9,1137.7 L1329.2,1147.9 L1334.5,1158.0 L1339.4,1168.2 L1344.1,1180.9 L1350.3,1191.0 L1356.4,1198.7 L1364.0,1206.3 L1368.5,1213.6 L1374.7,1220.8 L1380.8,1225.9 L1385.9,1233.1 L1394.1,1240.3 L1402.3,1247.5 L1408.5,1253.6 L1414.7,1257.7 L1422.9,1263.9 L1430.0,1269.0 L1437.2,1273.1 L1445.4,1276.2 L1453.6,1279.3 L1461.9,1281.3 L1470.1,1285.4 L1478.3,1288.5 L1488.5,1290.5 L1496.7,1293.6 L1507.0,1294.7 L1517.2,1296.7 L1527.5,1299.8 L1537.8,1301.8 L1550.1,1303.9 L1562.4,1304.9 L1578.8,1307.0 L1591.1,1308.0 L1605.5,1309.0 L1619.8,1310.0 L1634.2,1309.0 L1650.0,1311.1 L1700.0,1312.5 L1740.0,1314.0 L1790.0,1315.0" fill="none" stroke="#0000ff" stroke-width="8" stroke-linejoin="round" stroke-linecap="round"/>
<path d="M916.9,1222.2 L921.2,1234.9 L926.5,1247.6 L930.7,1257.1 L934.9,1259.3 L941.3,1256.1 L947.6,1247.6 L952.9,1234.9 L958.2,1224.3 L963.5,1213.8 L967.7,1201.1 L970.9,1184.1 L973.0,1169.3 L975.1,1148.1 L976.6,1127.0 L978.3,1105.8 L980.0,1084.7 L981.5,1063.5 L982.5,1042.3 L983.6,1021.2 L983.4,1020.2 L984.9,986.3 L986.1,944.0 L987.4,901.6 L988.5,859.3 L989.1,817.0 L989.9,774.7 L991.0,732.3 L992.1,690.0 L992.9,655.1 L993.5,612.8 L994.4,570.5 L995.4,517.6 L996.3,464.7 L997.1,422.3 L998.0,401.2 L998.8,380.0 L998.0,354.8 L999.3,304.0 L1002.7,251.4 L1002.9,236.8 L1003.9,217.2 L1005.3,197.7 L1005.9,187.9 L1006.6,182.1 L1008.9,186.0 L1010.3,190.9 L1011.9,197.7 L1012.9,217.2 L1013.8,227.0 L1014.8,241.7 L1015.1,251.4 L1014.5,265.9 L1017.1,304.0 L1019.6,342.1 L1022.5,380.0 L1024.7,422.3 L1027.8,464.7 L1029.9,507.0 L1032.5,549.3 L1036.3,591.6 L1039.5,623.4 L1041.6,644.6 L1043.7,655.1 L1049.0,644.6 L1053.2,650.9 L1060.6,634.0 L1064.9,623.4 L1067.0,602.2 L1070.2,581.1 L1073.3,559.9 L1075.4,538.7 L1077.6,517.6 L1079.3,496.4 L1081.4,464.7 L1083.5,432.9 L1085.6,401.2 L1087.1,380.0 L1086.9,354.8 L1089.5,316.7 L1092.0,278.6 L1093.8,251.4 L1094.7,236.8 L1096.2,217.2 L1097.7,197.7 L1099.1,178.2 L1101.1,158.6 L1104.1,146.9 L1106.6,141.0 L1109.4,132.2 L1111.4,124.9 L1113.5,139.1 L1116.4,158.6 L1118.4,178.2 L1120.3,197.7 L1121.3,217.2 L1122.8,236.8 L1123.3,251.4 L1125.0,291.3 L1126.8,329.4 L1128.8,367.5 L1130.9,405.6 L1132.6,445.0 L1133.7,455.4 L1135.1,493.5 L1136.7,531.6 L1138.3,569.7 L1139.9,607.8 L1141.8,645.9 L1143.7,684.0 L1145.9,722.1 L1148.6,760.2 L1151.3,790.7 L1154.0,816.1 L1154.2,822.7 L1159.3,835.4 L1161.9,855.7 L1163.1,878.6 L1165.7,904.0 L1173.3,905.3 L1177.1,914.2 L1181.7,920.5 L1187.3,914.2 L1193.6,905.3 L1197.4,888.7 L1201.2,877.3 L1207.6,871.0 L1212.7,873.5 L1216.5,884.9 L1220.3,891.3 L1226.6,895.1 L1230.4,911.6 L1234.3,929.4 L1238.1,949.7 L1242.1,967.5 L1246.2,992.9 L1251.5,1028.5 L1253.4,1033.5 L1255.2,1051.3 L1257.7,1069.1 L1260.7,1086.9 L1264.9,1104.7 L1267.8,1119.9 L1272.0,1135.2 L1277.5,1150.4 L1281.4,1163.1 L1284.9,1175.8 L1289.8,1184.7 L1296.0,1193.6 L1303.6,1193.6 L1312.4,1197.4 L1318.5,1205.0 L1323.4,1206.4 L1330.5,1209.5 L1335.7,1212.6 L1343.9,1209.5 L1349.0,1219.8 L1357.2,1228.0 L1365.4,1229.0 L1372.6,1236.2 L1377.7,1246.4 L1383.9,1254.6 L1392.1,1261.8 L1400.3,1270.0 L1407.5,1278.2 L1416.7,1282.3 L1424.9,1284.4 L1433.1,1287.5 L1441.3,1289.5 L1448.5,1291.6 L1455.7,1290.5 L1463.9,1292.6 L1472.1,1294.7 L1480.3,1296.7 L1488.5,1295.7 L1496.7,1297.7 L1507.0,1299.8 L1517.2,1301.8 L1527.5,1304.9 L1537.8,1305.9 L1550.1,1308.0 L1562.4,1310.0 L1578.8,1311.1 L1591.1,1312.1 L1605.5,1313.1 L1619.8,1314.1 L1634.2,1314.1 L1650.0,1313.7 L1700.0,1315.0 L1740.0,1316.0 L1790.0,1317.0" fill="none" stroke="#990000" stroke-width="8" stroke-linejoin="round" stroke-linecap="round"/>
<path d="M603.0,1320.7 L636.4,1320.0 L666.9,1318.2 L677.1,1312.6 L687.3,1303.7 L694.9,1291.0 L700.0,1275.8 L705.0,1255.5 L708.8,1235.1 L712.7,1214.8 L716.5,1194.5 L720.3,1176.7 L721.8,1166.7 L730.1,1100.0 L738.0,1045.0 L746.0,990.0 L749.3,960.0 L758.1,896.7 L768.9,830.0 L779.0,765.0 L789.6,700.0 L791.0,690.0 L797.7,626.7 L806.3,560.0 L810.4,509.3 L814.6,467.0 L819.7,424.7 L825.2,382.3 L831.5,340.0 L834.2,324.4 L838.0,298.9 L843.0,276.1 L846.3,253.2 L851.9,240.5 L858.3,231.6 L862.1,212.6 L868.4,202.4 L877.3,192.3 L881.1,171.9 L887.5,159.2 L895.1,147.8 L905.3,137.6 L911.6,127.5 L919.3,140.2 L925.6,144.0 L930.7,154.2 L935.3,169.4 L940.3,182.1 L944.7,199.9 L950.5,217.7 L954.1,232.9 L957.4,250.7 L962.4,268.5 L968.8,283.7 L973.4,301.5 L977.7,321.8 L982.8,339.6 L988.6,354.8 L992.9,370.1 L994.0,380.0 L998.2,401.2 L1003.5,422.3 L1009.8,443.5 L1014.1,464.7 L1021.5,485.8 L1027.8,507.0 L1033.1,528.1 L1037.4,549.3 L1042.6,570.5 L1047.9,591.6 L1052.2,612.8 L1056.4,634.0 L1060.6,655.1 L1064.9,676.3 L1069.1,697.5 L1072.3,711.2 L1075.4,732.3 L1078.6,753.5 L1082.9,774.7 L1088.1,795.8 L1092.4,817.0 L1097.0,838.0 L1101.5,859.0 L1107.2,873.5 L1112.3,893.8 L1116.1,909.1 L1122.5,926.9 L1126.3,944.6 L1132.6,962.4 L1139.0,985.3 L1146.6,1008.1 L1153.0,1025.9 L1159.3,1043.7 L1165.7,1061.5 L1172.0,1076.7 L1178.4,1092.0 L1186.0,1107.2 L1193.6,1122.5 L1200.0,1137.7 L1208.8,1150.4 L1216.5,1165.6 L1222.8,1174.5 L1230.4,1183.4 L1240.6,1196.1 L1248.2,1205.0 L1256.7,1213.6 L1265.9,1223.9 L1274.1,1234.1 L1283.3,1240.3 L1293.6,1248.5 L1300.8,1253.6 L1312.1,1261.8 L1322.3,1268.0 L1332.6,1274.1 L1342.8,1280.3 L1353.1,1284.4 L1363.4,1288.5 L1373.6,1291.6 L1385.9,1295.7 L1398.2,1299.4 L1408.5,1301.8 L1417.7,1302.9" fill="none" stroke="#ff00ff" stroke-width="8" stroke-linejoin="round" stroke-linecap="round"/>
</g>
<g font-family="Liberation Sans, sans-serif" font-weight="bold" font-size="62.5" fill="#000">
<text transform="translate(358.1,1409.8) scale(1,1.04)" text-anchor="middle">250</text>
<text transform="translate(596.2,1409.8) scale(1,1.04)" text-anchor="middle">300</text>
<text transform="translate(834.4,1409.8) scale(1,1.04)" text-anchor="middle">350</text>
<text transform="translate(1072.5,1409.8) scale(1,1.04)" text-anchor="middle">400</text>
<text transform="translate(1310.7,1409.8) scale(1,1.04)" text-anchor="middle">450</text>
<text transform="translate(1548.8,1409.8) scale(1,1.04)" text-anchor="middle">500</text>
<text transform="translate(1787.0,1409.8) scale(1,1.04)" text-anchor="middle">550</text>
<text transform="translate(202.5,1341.3) scale(1,1.04)" text-anchor="end">0.0</text>
<text transform="translate(1822.5,1341.3) scale(1,1.04)">0.0</text>
<text transform="translate(202.5,1100.3) scale(1,1.04)" text-anchor="end">0.2</text>
<text transform="translate(1822.5,1100.3) scale(1,1.04)">0.2</text>
<text transform="translate(202.5,859.3) scale(1,1.04)" text-anchor="end">0.4</text>
<text transform="translate(1822.5,859.3) scale(1,1.04)">0.4</text>
<text transform="translate(202.5,618.3) scale(1,1.04)" text-anchor="end">0.6</text>
<text transform="translate(1822.5,618.3) scale(1,1.04)">0.6</text>
<text transform="translate(202.5,377.3) scale(1,1.04)" text-anchor="end">0.8</text>
<text transform="translate(1822.5,377.3) scale(1,1.04)">0.8</text>
<text transform="translate(202.5,136.3) scale(1,1.04)" text-anchor="end">1.0</text>
<text transform="translate(1822.5,136.3) scale(1,1.04)">1.0</text>
</g>
<g font-family="Liberation Sans, sans-serif" font-weight="bold" font-size="74.5" fill="#000" text-anchor="middle">
<text transform="translate(1043.5,1495.3) scale(1,1.025)">Wavelength (nm)</text>
<text transform="translate(86.5,732) rotate(-90) scale(1,1.025)">Normalized Absorbance</text>
<text transform="translate(1998.3,698.5) rotate(-90) scale(1,1.025)">Norm. Photoluminescence</text>
</g>
<g font-family="Liberation Sans, sans-serif" font-size="58.5" fill="#000">
<g fill="#0000ff"><circle cx="1189.2" cy="109.8" r="5.3"/><circle cx="1209.5" cy="109.8" r="5.3"/><circle cx="1229.8" cy="109.8" r="5.3"/><circle cx="1250.1" cy="109.8" r="5.3"/><circle cx="1270.4" cy="109.8" r="5.3"/><circle cx="1290.7" cy="109.8" r="5.3"/><circle cx="1311.0" cy="109.8" r="5.3"/></g>
<text transform="translate(1335,128.8) scale(1,1.035)">Comp. <tspan font-weight="bold">B</tspan> (Abs.)</text>
<g fill="#990000"><circle cx="1189.2" cy="183.5" r="5.3"/><circle cx="1209.5" cy="183.5" r="5.3"/><circle cx="1229.8" cy="183.5" r="5.3"/><circle cx="1250.1" cy="183.5" r="5.3"/><circle cx="1270.4" cy="183.5" r="5.3"/><circle cx="1290.7" cy="183.5" r="5.3"/><circle cx="1311.0" cy="183.5" r="5.3"/></g>
<text transform="translate(1335,202.5) scale(1,1.035)">Comp. <tspan font-weight="bold">P3</tspan> (Abs.)</text>
<g fill="#ff00ff"><circle cx="1189.2" cy="257.2" r="5.3"/><circle cx="1209.5" cy="257.2" r="5.3"/><circle cx="1229.8" cy="257.2" r="5.3"/><circle cx="1250.1" cy="257.2" r="5.3"/><circle cx="1270.4" cy="257.2" r="5.3"/><circle cx="1290.7" cy="257.2" r="5.3"/><circle cx="1311.0" cy="257.2" r="5.3"/></g>
<text transform="translate(1335,276.2) scale(1,1.035)">Comp. <tspan font-weight="bold">P2</tspan> (Abs.)</text>
<path d="M1187.8,330.9H1318.8" stroke="#0000ff" stroke-width="8" stroke-linecap="round"/>
<text transform="translate(1335,349.9) scale(1,1.035)">Comp. <tspan font-weight="bold">B</tspan> (PL)</text>
<path d="M1187.8,404.6H1318.8" stroke="#990000" stroke-width="8" stroke-linecap="round"/>
<text transform="translate(1335,423.6) scale(1,1.035)">Comp. <tspan font-weight="bold">P3</tspan> (PL)</text>
<path d="M1187.8,478.3H1318.8" stroke="#ff00ff" stroke-width="8" stroke-linecap="round"/>
<text transform="translate(1335,497.3) scale(1,1.035)">Comp. <tspan font-weight="bold">P2</tspan> (PL)</text>
</g>
</svg>
</body></html>
